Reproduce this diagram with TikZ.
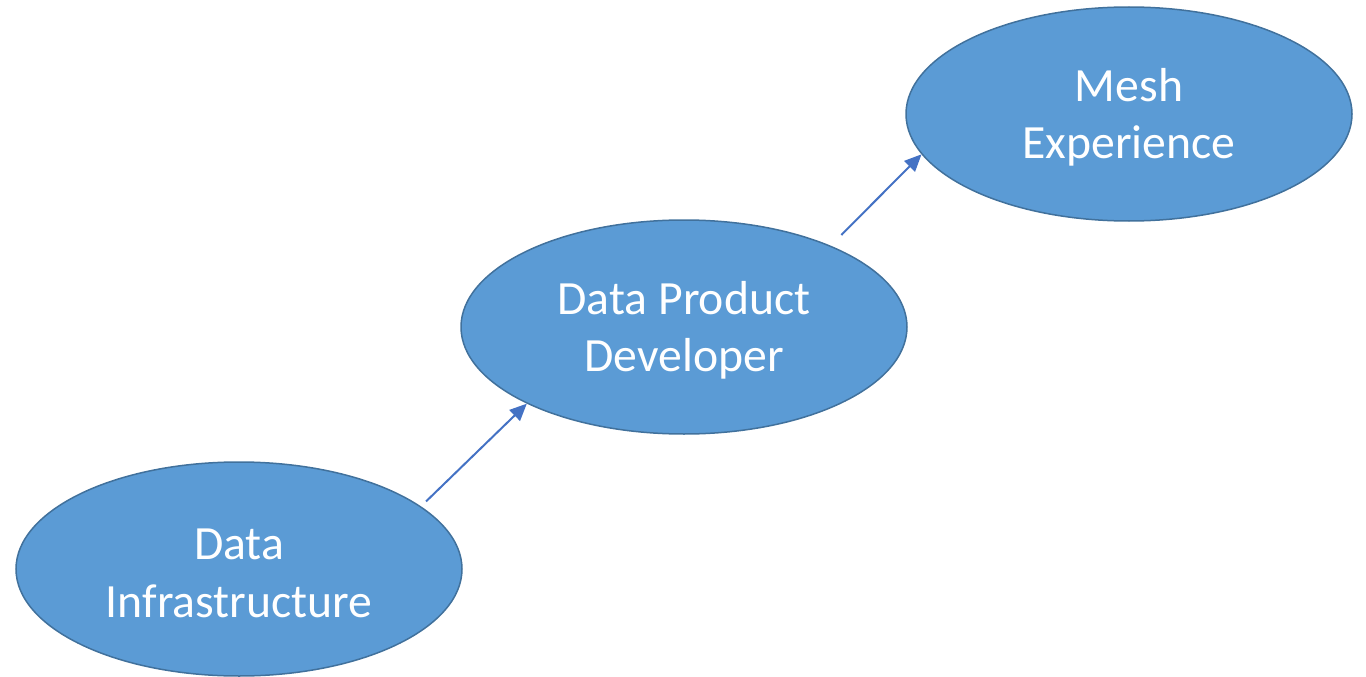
\documentclass[tikz,border=0pt]{standalone}
\usepackage{fontspec}
\setmainfont{Carlito}
\usetikzlibrary{shapes.geometric,arrows.meta}
\definecolor{blob}{HTML}{5B9BD5}
\definecolor{rim}{HTML}{41719C}
\definecolor{link}{HTML}{4472C4}
\tikzset{stage/.style={ellipse,draw=rim,fill=blob,line width=1.5pt,minimum width=446pt,minimum height=214pt,inner sep=0pt,align=center,text=white,font=\fontsize{47.7}{57.5}\selectfont,text height=97pt},
 hop/.style={link,line width=2pt,-{Triangle[length=17pt,width=15pt]}}}
\begin{document}
\begin{tikzpicture}[x=1pt,y=-1pt]
 \useasboundingbox (0,0) rectangle (1366,677);
 \node[stage] (infra) at (239,569) {Data\\Infrastructure};
 \node[stage] (dev) at (684,327) {Data Product\\Developer};
 \node[stage] (mesh) at (1129,114) {Mesh\\Experience};
 \draw[hop,shorten <=7pt] (infra.19) -- (dev.206);
 \draw[hop,shorten <=15pt] (dev.29) -- (mesh.191.5);
\end{tikzpicture}
\end{document}
